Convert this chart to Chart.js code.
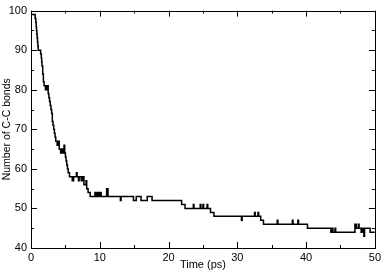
<!DOCTYPE html>
<html>
<head>
<meta charset="utf-8">
<script src="https://cdn.jsdelivr.net/npm/chart.js@4"></script>
<style>
  html, body { margin: 0; padding: 0; background: #fff; }
  #wrap { width: 384px; height: 272px; }
</style>
</head>
<body>
<div id="wrap"><canvas id="chart"></canvas></div>
<script>
// tiempo (ps) y numero de enlaces C-C, cada valor se mantiene hasta el siguiente tiempo
const times = [0, 0.6, 0.7, 0.75, 0.8, 0.85, 0.9, 0.95, 1.0, 1.05, 1.4, 1.5, 1.55, 1.6, 1.7, 1.8, 1.9, 2.1, 2.2, 2.3, 2.4,
    2.5, 2.6, 2.7, 2.8, 2.9, 3.0, 3.1, 3.2, 3.3, 3.4, 3.5, 3.6, 3.8, 4.0, 4.1, 4.3, 4.5, 4.6, 4.8, 4.9,
    5.0, 5.1, 5.2, 5.3, 5.4, 5.6, 6.0, 6.2, 6.6, 6.7, 6.9, 7.0, 7.3, 7.5, 7.7, 8.0, 8.1, 8.3, 8.6,
    9.3, 9.4, 9.6, 9.8, 10.0, 10.2, 11.0, 11.2, 13.0, 13.1, 14.9, 15.3, 16.0, 16.9, 17.6,
    21.9, 22.4, 23.6, 23.7, 24.6, 24.7, 25.0, 25.1, 25.6, 25.7, 26.1, 26.6, 30.6, 30.7,
    32.5, 32.6, 33.0, 33.1, 33.4, 33.8, 35.8, 35.9, 38.0, 38.1, 38.8, 38.9, 40.2,
    43.6, 43.8, 43.9, 44.2, 44.3, 47.1, 47.3, 47.6, 47.7, 48.0, 48.2, 48.4, 48.5, 49.3, 50];
const bonds = [99, 98, 97, 96, 95, 94, 93, 92, 91, 90, 89, 88, 87, 86, 84, 82, 81, 80, 81, 80, 81,
    79, 78, 77, 76, 75, 74, 72, 71, 70, 69, 68, 67, 66, 67, 65, 64, 65, 64, 66, 64,
    63, 62, 61, 60, 59, 58, 57, 58, 59, 58, 57, 58, 57, 58, 56, 57, 55, 54, 53,
    54, 53, 54, 53, 54, 53, 55, 53, 52, 53, 52, 53, 52, 53, 52,
    51, 50, 51, 50, 51, 50, 51, 50, 51, 50, 49, 48, 47, 48,
    49, 48, 49, 48, 47, 46, 47, 46, 47, 46, 47, 46, 45,
    44, 45, 44, 45, 44, 46, 45, 46, 45, 44, 45, 43, 45, 44, 44];

const xTicks = [0, 10, 20, 30, 40, 50];
const yTicks = [40, 50, 60, 70, 80, 90, 100];

const points = times.map((t, i) => ({ x: t, y: bonds[i] }));

// marco y marcas hacia adentro en los cuatro lados
const framePlugin = {
    id: "frame",
    afterDraw(chart) {
        const ctx = chart.ctx;
        const a = chart.chartArea;
        const xs = chart.scales.x;
        const ys = chart.scales.y;
        ctx.save();
        ctx.strokeStyle = "#000";
        ctx.lineWidth = 1;
        ctx.strokeRect(Math.round(a.left) + 0.5, Math.round(a.top) + 0.5,
            Math.round(a.right - a.left), Math.round(a.bottom - a.top));
        ctx.beginPath();
        for (let v = 0; v <= 50; v += 5) {
            const len = v % 10 === 0 ? 6 : 3;
            const px = Math.round(xs.getPixelForValue(v)) + 0.5;
            ctx.moveTo(px, a.bottom);
            ctx.lineTo(px, a.bottom - len);
            ctx.moveTo(px, a.top);
            ctx.lineTo(px, a.top + len);
        }
        for (let v = 40; v <= 100; v += 5) {
            const len = v % 10 === 0 ? 6 : 3;
            const py = Math.round(ys.getPixelForValue(v)) + 0.5;
            ctx.moveTo(a.left, py);
            ctx.lineTo(a.left + len, py);
            ctx.moveTo(a.right, py);
            ctx.lineTo(a.right - len, py);
        }
        ctx.stroke();
        ctx.restore();
    }
};

const font = { family: "'Liberation Sans', Arial, sans-serif", size: 11 };

new Chart(document.getElementById("chart"), {
    type: "line",
    data: {
        datasets: [{
            data: points,
            stepped: true,
            borderColor: "#000",
            borderWidth: 1.5,
            pointRadius: 0,
            fill: false
        }]
    },
    options: {
        responsive: true,
        maintainAspectRatio: false,
        animation: false,
        layout: { padding: { top: 5, right: 4, left: 0, bottom: 0 } },
        plugins: { legend: { display: false }, tooltip: { enabled: false } },
        scales: {
            x: {
                type: "linear",
                min: 0,
                max: 50,
                afterBuildTicks: (s) => { s.ticks = xTicks.map((v) => ({ value: v })); },
                afterFit: (s) => { s.height = 24; },
                grid: { display: false, drawTicks: false },
                border: { display: false },
                ticks: { color: "#000", font: font, padding: 3, maxRotation: 0 },
                title: { display: true, text: "Time (ps)", color: "#000", font: font, padding: { top: 0, bottom: 0 } }
            },
            y: {
                min: 40,
                max: 100,
                afterBuildTicks: (s) => { s.ticks = yTicks.map((v) => ({ value: v })); },
                afterFit: (s) => { s.width = 31; },
                grid: { display: false, drawTicks: false },
                border: { display: false },
                ticks: { color: "#000", font: font, padding: 4 },
                title: { display: true, text: "Number of C-C bonds", color: "#000", font: { family: font.family, size: 10.5 }, padding: { top: 1, bottom: 0 } }
            }
        }
    },
    plugins: [framePlugin]
});
</script>
</body>
</html>
